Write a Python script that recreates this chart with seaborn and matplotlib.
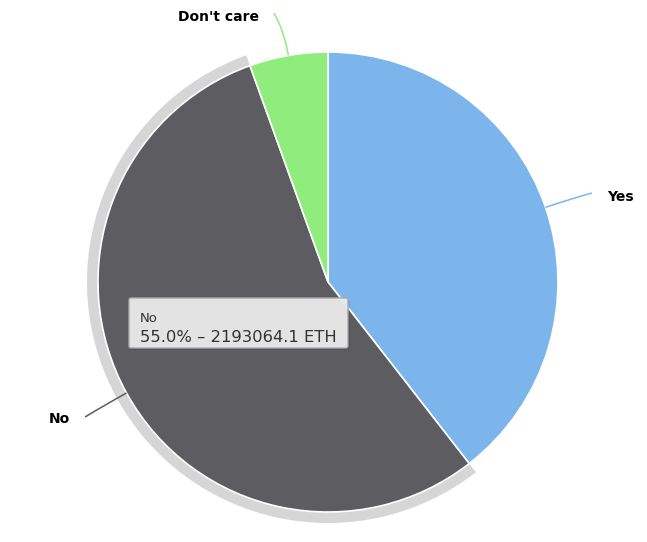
import numpy as np
import matplotlib.pyplot as plt
import seaborn as sns
from matplotlib.path import Path
from matplotlib.patches import PathPatch, Wedge, FancyBboxPatch

# vote results (ETH)
answers = ['Yes', 'No', "Don't care"]
eth = [1574000.0, 2193064.1, 219700.0]
colors = ['#7cb5ec', '#5c5c61', '#90ed7d']
hovered = 'No'

sns.set_theme(style='white')
plt.rcParams['font.family'] = ['DejaVu Sans']

W, H = 647, 542
fig = plt.figure(figsize=(W / 100, H / 100), dpi=100)
ax = fig.add_axes([0, 0, 1, 1])

cx, cy, r = 328, H - 282, 230

wedges, _ = ax.pie(eth, colors=colors, startangle=90, counterclock=False,
                   radius=r, center=(cx, cy), frame=True,
                   wedgeprops=dict(edgecolor='white', linewidth=1.2))
ax.set_xlim(0, W)
ax.set_ylim(0, H)
ax.set_aspect('equal')
ax.axis('off')

total = sum(eth)
i_hover = answers.index(hovered)
wh = wedges[i_hover]
# hover halo
halo = Wedge((cx, cy), r + 11, wh.theta1, wh.theta2, width=11,
             facecolor=colors[i_hover], alpha=0.25, edgecolor='none', zorder=0)
ax.add_patch(halo)

# data labels with curved connectors
label_pos = {'Yes': (607, H - 197, 'left'),
             'No': (70, H - 419, 'right'),
             "Don't care": (259, H - 17, 'right')}
conn_end = {'Yes': (592, H - 193), 'No': (85, H - 417), "Don't care": (274, H - 13)}
for w, name, c in zip(wedges, answers, colors):
    mid = np.deg2rad((w.theta1 + w.theta2) / 2)
    p0 = (cx + r * np.cos(mid), cy + r * np.sin(mid))
    p1 = (cx + (r + 25) * np.cos(mid), cy + (r + 25) * np.sin(mid))
    p2 = conn_end[name]
    path = Path([p0, p1, p2], [Path.MOVETO, Path.CURVE3, Path.CURVE3])
    ax.add_patch(PathPatch(path, facecolor='none', edgecolor=c, lw=1.1, zorder=3))
    x, y, ha = label_pos[name]
    ax.text(x, y, name, ha=ha, va='center', fontsize=10, fontweight='bold',
            color='#000000', zorder=4)

# tooltip
pct = eth[i_hover] / total * 100
bx, by, bw, bh = 129, H - 348, 219, 50
shadow = FancyBboxPatch((bx + 1.5, by - 1.5), bw, bh, boxstyle='round,pad=0,rounding_size=2',
                        facecolor='#000000', alpha=0.15, edgecolor='none', zorder=5)
ax.add_patch(shadow)
box = FancyBboxPatch((bx, by), bw, bh, boxstyle='round,pad=0,rounding_size=2',
                     facecolor='#e9e9e9', edgecolor='#aaaaaa', lw=1, alpha=0.97, zorder=6)
ax.add_patch(box)
ax.text(bx + 11, H - 319, hovered, ha='left', va='center', fontsize=9.5,
        color='#333333', zorder=7)
ax.text(bx + 11, H - 338, f'{pct:.1f}% \u2013 {eth[i_hover]:.1f} ETH', ha='left',
        va='center', fontsize=11.8, color='#333333', zorder=7)

fig.savefig('out.png', dpi=100)
